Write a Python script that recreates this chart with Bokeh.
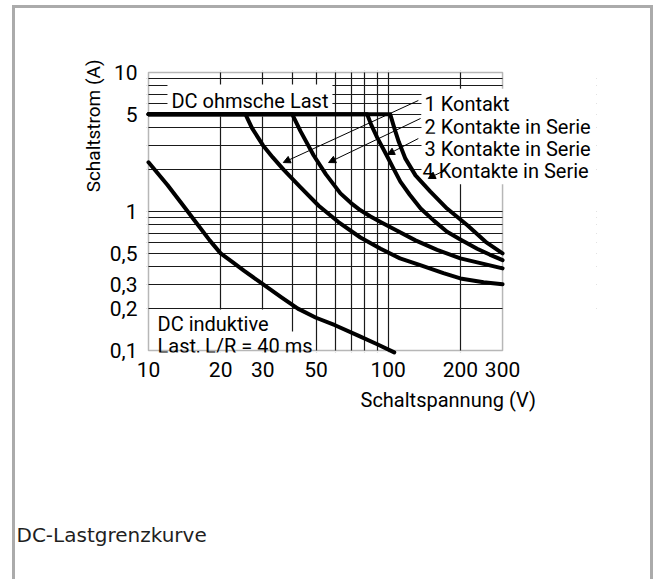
from bokeh.plotting import figure
from bokeh.models import FixedTicker, Label, Arrow, NormalHead, BoxAnnotation, Title, LogAxis
from bokeh.embed import file_html
from bokeh.resources import INLINE

# ---- data ----
kontakt1_v = [10, 25.4, 27, 30, 33, 36.6, 43, 51.3, 62, 76.6, 93, 112, 137, 170, 200, 250, 300]
kontakt1_a = [5, 5, 4.0, 3.0, 2.45, 2.0, 1.5, 1.1, 0.84, 0.65, 0.54, 0.46, 0.41, 0.36, 0.33, 0.31, 0.30]

kontakt2_v = [10, 39.8, 43, 48.9, 55, 63.2, 70, 76.6, 84.4, 92.9, 110, 130, 160, 200, 250, 300]
kontakt2_a = [5, 5, 3.8, 2.53, 1.85, 1.35, 1.15, 1.02, 0.92, 0.84, 0.72, 0.62, 0.53, 0.46, 0.42, 0.39]

kontakt3_v = [10, 81.7, 85, 90, 99, 105, 112.4, 123, 136.6, 155, 176, 200, 235, 265, 300]
kontakt3_a = [5, 5, 4.2, 3.4, 2.5, 2.05, 1.64, 1.32, 1.05, 0.86, 0.715, 0.63, 0.54, 0.49, 0.447]

kontakt4_v = [10, 102, 106, 110.7, 118, 130, 150, 176, 214, 255, 300]
kontakt4_a = [5, 5, 4.0, 3.17, 2.40, 1.82, 1.39, 1.05, 0.797, 0.605, 0.50]

induktiv_v = [10, 12, 13.6, 16, 18, 20, 22.5, 25, 30, 36, 42, 50, 60, 75, 90, 106]
induktiv_a = [2.26, 1.55, 1.17, 0.81, 0.62, 0.5, 0.43, 0.375, 0.3, 0.24, 0.2, 0.172, 0.152, 0.128, 0.111, 0.097]

x_lim = [10, 300]
y_lim = [0.1, 10]
x_tick_values = [10, 20, 30, 50, 100, 200, 300]
x_tick_labels = ["10", "20", "30", "50", "100", "200", "300"]
y_tick_values = [0.1, 0.2, 0.3, 0.5, 1, 5, 10]
y_tick_labels = ["0,1", "0,2", "0,3", "0,5", "1", "5", "10"]
x_grid_values = [20, 30, 40, 50, 60, 70, 80, 90, 100, 200]
y_grid_values = [0.2, 0.3, 0.4, 0.5, 0.6, 0.7, 0.8, 0.9, 1, 2, 3, 4, 5, 6, 7, 8, 9]

series_labels = ["1 Kontakt", "2 Kontakte in Serie", "3 Kontakte in Serie", "4 Kontakte in Serie"]
series_label_x = [137.7, 137.7, 137.7, 137.7]
series_label_y = [5.955, 4.069, 2.826, 1.950]
arrow_x_start = [133.6, 136.5, 133.6, 175]
arrow_y_start = [6.29, 4.67, 3.35, 2.0]
arrow_x_end = [36.5, 56.4, 99.3, 147]
arrow_y_end = [2.25, 2.25, 2.57, 1.73]

x_title = "Schaltspannung (V)"
y_title = "Schaltstrom (A)"
caption = "DC-Lastgrenzkurve"
ohm_text = "DC ohmsche Last"
ind_text = ["DC induktive", "Last, L/R = 40 ms"]

FONT = "Roboto"
FS = "20px"
GRAY = "#ababab"

p = figure(x_axis_type="log", y_axis_type="log",
           x_range=(9.8097, 739.8), y_range=(0.09674, 10.337),
           frame_width=450, frame_height=282,
           min_border_left=146, min_border_right=57, min_border_top=70, min_border_bottom=227,
           output_backend="svg", toolbar_location=None)
g = "linear-gradient(%s,%s)" % (GRAY, GRAY)
p.styles = {
    "background": ", ".join([
        g + " 12px 5px / 3px 574px no-repeat",
        g + " 650px 5px / 3px 574px no-repeat",
        g + " 12px 5px / 641px 3px no-repeat",
    ]),
}
p.background_fill_color = "white"
p.border_fill_color = None
p.outline_line_color = None

p.xaxis.ticker = FixedTicker(ticks=x_tick_values, minor_ticks=[])
p.yaxis.ticker = FixedTicker(ticks=y_tick_values, minor_ticks=[])
p.xaxis.major_label_overrides = dict(zip(x_tick_values, x_tick_labels))
p.yaxis.major_label_overrides = dict(zip(y_tick_values, y_tick_labels))
for ax in (p.xaxis, p.yaxis):
    ax.axis_line_color = None
    ax.major_tick_line_color = None
    ax.minor_tick_line_color = None
    ax.major_tick_out = 0
    ax.major_tick_in = 0
    ax.major_label_text_font = FONT
    ax.major_label_text_font_size = "21px"
    ax.major_label_text_color = "black"
p.xaxis.major_label_standoff = 9
p.yaxis.major_label_standoff = 9

p.xgrid.ticker = FixedTicker(ticks=x_grid_values, minor_ticks=[])
p.ygrid.ticker = FixedTicker(ticks=y_grid_values, minor_ticks=[])
p.grid.grid_line_color = "#1a1a1a"
p.grid.grid_line_width = 1.2
p.grid.grid_line_alpha = 1.0

# keep the grid inside the diagram box
FAR_LO, FAR_HI = 1e-6, 1e6
for kw in (dict(left=FAR_LO, right=x_lim[0], bottom=FAR_LO, top=FAR_HI),
           dict(left=x_lim[1], right=FAR_HI, bottom=FAR_LO, top=FAR_HI),
           dict(left=FAR_LO, right=FAR_HI, bottom=FAR_LO, top=y_lim[0]),
           dict(left=FAR_LO, right=FAR_HI, bottom=y_lim[1], top=FAR_HI)):
    p.add_layout(BoxAnnotation(fill_color="white", fill_alpha=1.0, line_color=None, **kw))

def txt(x, y, text, pad, **kw):
    return Label(x=x, y=y, text=text, text_font=FONT, text_font_size=FS, text_color="black",
                 text_baseline="alphabetic", background_fill_color="white", padding=pad, **kw)

p.add_layout(txt(12.0, 6.288, ohm_text, 4))
p.add_layout(txt(10.7, 0.1564, ind_text[0], 2))
p.add_layout(txt(10.7, 0.1086, ind_text[1], 2))

# diagram frame
p.add_layout(BoxAnnotation(left=x_lim[0], right=x_lim[1], bottom=y_lim[0], top=y_lim[1],
                           fill_color=None, line_color="#111111", line_width=1.5))

for i, (t, lx, ly) in enumerate(zip(series_labels, series_label_x, series_label_y)):
    p.add_layout(txt(lx, ly, t, 1 if i == 3 else 3))
for xs, ys, xe, ye in zip(arrow_x_start, arrow_y_start, arrow_x_end, arrow_y_end):
    p.add_layout(Arrow(x_start=xs, y_start=ys, x_end=xe, y_end=ye, line_width=1, line_color="black",
                       end=NormalHead(size=7, fill_color="black", line_color="black", line_width=1)))

# axis titles and caption (side panels)
p.add_layout(Title(text=y_title, align="right", offset=-11, standoff=3, text_font=FONT,
                   text_font_size="19px", text_font_style="normal", text_color="black"), "left")
p.add_layout(Title(text=x_title, align="left", offset=214, standoff=16, vertical_align="top",
                   text_font=FONT, text_font_size=FS, text_font_style="normal", text_color="black"), "below")
# empty spacer band between the axis title and the caption
spacer = LogAxis(ticker=FixedTicker(ticks=[x_lim[0]], minor_ticks=[]), major_tick_out=101, major_tick_in=0,
                 minor_tick_out=0, axis_line_color=None, major_tick_line_color="white",
                 minor_tick_line_color=None, major_label_standoff=0,
                 major_label_text_color=None, major_label_text_font_size="0px")
p.add_layout(spacer, "below")
p.add_layout(Title(text=caption, align="left", offset=-130, standoff=0, vertical_align="top",
                   text_font="DejaVu Sans", text_font_size="20px", text_font_style="normal",
                   text_color="#1f1f1f"), "below")

# curves
for xs, ys in [(kontakt1_v, kontakt1_a), (kontakt2_v, kontakt2_a), (kontakt3_v, kontakt3_a),
               (kontakt4_v, kontakt4_a), (induktiv_v, induktiv_a)]:
    p.line(xs, ys, line_width=4, line_color="black", line_join="round", line_cap="round", level="overlay")

open("out.html", "w").write(file_html(p, INLINE))
